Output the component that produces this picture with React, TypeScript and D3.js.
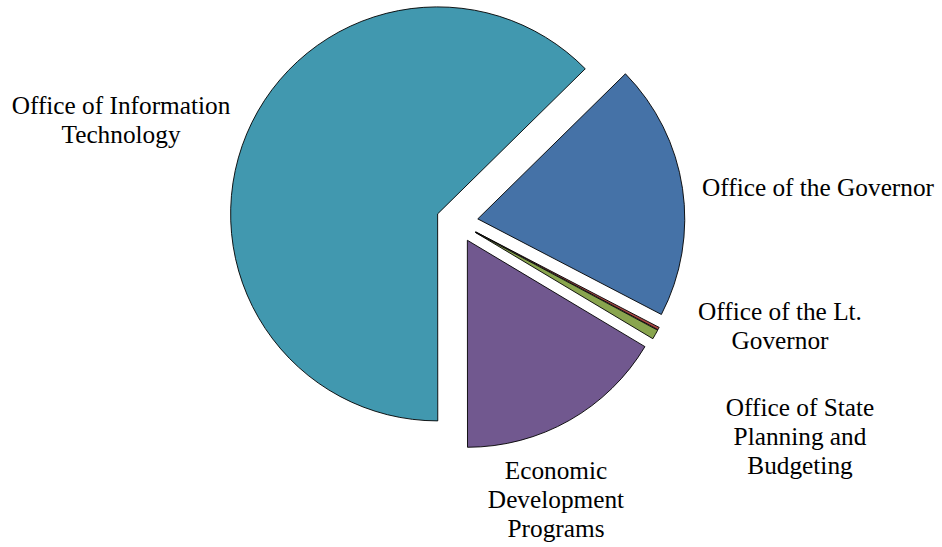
import React from "react";
import * as d3 from "d3";

const categories = [
  "Office of the Governor",
  "Office of the Lt. Governor",
  "Office of State Planning and Budgeting",
  "Economic Development Programs",
  "Office of Information Technology",
];
const values = [20.0, 0.2, 0.75, 16.4, 62.65];
const colors = ["#4572A7", "#AA4643", "#89A54E", "#71588F", "#4198AF"];
const labelLines = [
  ["Office of the Governor"],
  ["Office of the Lt.", "Governor"],
  ["Office of State", "Planning and", "Budgeting"],
  ["Economic", "Development", "Programs"],
  ["Office of Information", "Technology"],
];

const W = 942;
const H = 547;
const CX = 457;
const CY = 222;
const R = 207;
const EXPLODE = 21;
const START = (45.5 * Math.PI) / 180;
const LINE_H = 29;
const FONT_SIZE = 25.3;
// label anchor centers (x, y of first-line middle)
const labelPos: [number, number][] = [
  [818, 187],
  [780, 311],
  [800, 407],
  [556, 470],
  [121, 105],
];

export default function App() {
  const pie = d3
    .pie<number>()
    .sort(null)
    .startAngle(START)
    .endAngle(START + 2 * Math.PI)(values);
  const arc = d3.arc<d3.PieArcDatum<number>>().innerRadius(0).outerRadius(R);

  return (
    <svg
      width={W}
      height={H}
      style={{ position: "absolute", left: 0, top: 0, background: "#fff" }}
    >
      <g transform={`translate(${CX},${CY})`}>
        {pie.map((d, i) => {
          const mid = (d.startAngle + d.endAngle) / 2;
          const dx = Math.sin(mid) * EXPLODE;
          const dy = -Math.cos(mid) * EXPLODE;
          return (
            <path
              key={categories[i]}
              d={arc(d) || ""}
              transform={`translate(${dx},${dy})`}
              fill={colors[i]}
              stroke="#000"
              strokeWidth={0.9}
              strokeLinejoin="round"
            />
          );
        })}
      </g>
      {labelLines.map((lines, i) => (
        <text
          key={categories[i]}
          x={labelPos[i][0]}
          y={labelPos[i][1]}
          textAnchor="middle"
          fontFamily="'Liberation Serif', 'Times New Roman', serif"
          fontSize={FONT_SIZE}
          fill="#000"
        >
          {lines.map((l, j) => (
            <tspan
              key={j}
              x={labelPos[i][0]}
              y={labelPos[i][1] + j * LINE_H}
              dominantBaseline="central"
            >
              {l}
            </tspan>
          ))}
        </text>
      ))}
    </svg>
  );
}
